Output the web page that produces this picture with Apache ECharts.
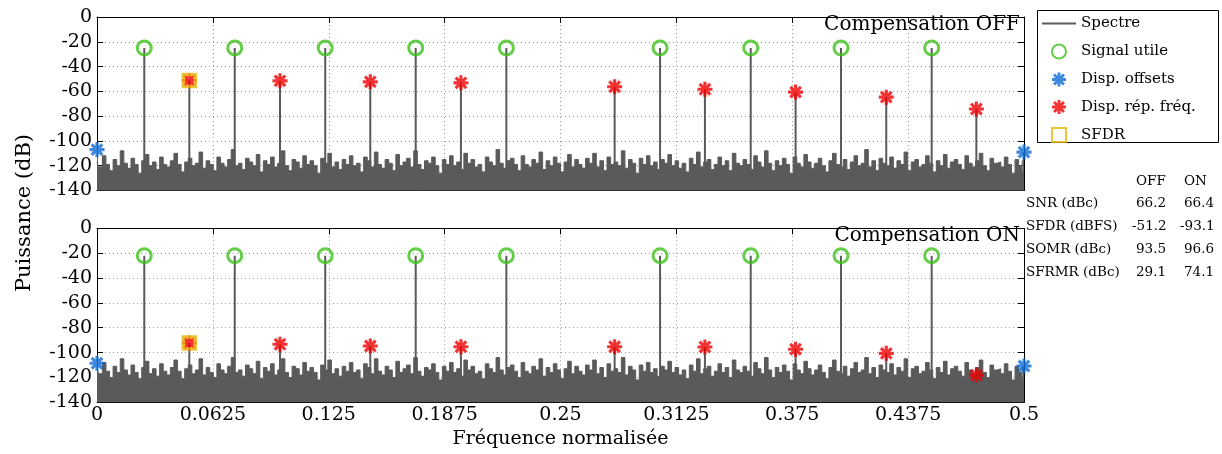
<!DOCTYPE html>
<html><head><meta charset="utf-8">
<script src="https://cdn.jsdelivr.net/npm/echarts@6/dist/echarts.min.js"></script>
<style>html,body{margin:0;padding:0;background:#fff}#c{width:1222px;height:454px}</style>
</head><body><div id="c"></div>
<script>
// ---------------- DATA ----------------
const toneFreqs = [0.0255, 0.0743, 0.1231, 0.1719, 0.2208, 0.3037, 0.3526, 0.4013, 0.4502];
const toneLevelsOff = [-25, -25, -25, -25, -25, -25, -25, -25, -25];
const toneLevelsOn  = [-22, -22, -22, -22, -22, -22, -22, -22, -22];
const spurFreqs = [0.0498, 0.0987, 0.1474, 0.1963, 0.2792, 0.3279, 0.3768, 0.4257, 0.4743];
const spurLevelsOff = [-51.2, -51.5, -52.3, -53.1, -56.3, -58.3, -60.6, -64.7, -74.2];
const spurLevelsOn  = [-92.3, -93.3, -94.7, -95.3, -95.3, -95.5, -97.3, -100.6, -118.1];
const offsetFreqs = [0, 0.5];
const offsetLevelsOff = [-107, -109];
const offsetLevelsOn  = [-108.6, -110.8];
const sfdrFreq = 0.0498;
const sfdrOff = -51.2;
const sfdrOn = -92.3;
const yTicks = [-140, -120, -100, -80, -60, -40, -20, 0];
const xTicks = [0, 0.0625, 0.125, 0.1875, 0.25, 0.3125, 0.375, 0.4375, 0.5];
const tableHead = ['OFF', 'ON'];
const tableRows = ['SNR (dBc)', 'SFDR (dBFS)', 'SOMR (dBc)', 'SFRMR (dBc)'];
const tableOff = ['66.2', '-51.2', '93.5', '29.1'];
const tableOn  = ['66.4', '-93.1', '96.6', '74.1'];
const noiseOff = [
-117,-121,-112,-119,-124,-115,-120,-108,-118,-122,-114,-119,-126,-116,-111,-120,-117,-123,-113,-119,
-121,-116,-110,-119,-125,-117,-114,-120,-118,-109,-122,-116,-119,-124,-113,-118,-121,-115,-107,-120,
-118,-123,-114,-117,-120,-111,-125,-116,-119,-113,-121,-118,-108,-120,-124,-115,-117,-122,-112,-119,
-116,-120,-126,-114,-118,-110,-121,-117,-123,-115,-119,-112,-120,-118,-125,-113,-116,-121,-109,-119,
-122,-115,-118,-124,-111,-120,-117,-114,-121,-108,-119,-123,-116,-118,-113,-120,-126,-115,-119,-112,
-120,-117,-123,-110,-118,-115,-121,-119,-125,-113,-117,-120,-107,-118,-122,-116,-114,-119,-124,-112,
-119,-121,-115,-118,-109,-123,-116,-120,-113,-118,-125,-117,-111,-121,-115,-119,-122,-114,-118,-110,
-121,-116,-124,-113,-119,-117,-120,-108,-122,-115,-118,-126,-114,-119,-112,-120,-117,-123,-115,-118,
-111,-120,-116,-122,-118,-125,-114,-119,-109,-121,-117,-115,-123,-119,-113,-120,-116,-124,-110,-118,
-120,-115,-119,-123,-112,-117,-121,-108,-118,-124,-116,-120,-114,-119,-126,-113,-118,-121,-111,-117,
-122,-118,-114,-120,-125,-116,-110,-119,-121,-115,-123,-117,-112,-120,-118,-107,-121,-116,-124,-114,
-118,-120,-113,-122,-116,-119,-109,-124,-117,-115,-121,-119,-112,-118,-125,-116,-120,-111,-122,-117,
-115,-119,-123,-112,-118,-121,-116,-110,-120,-124,-114,-118,-117,-121,-113,-119,-126,-115,-120,-116];
const noiseOn = [
-113,-117,-108,-115,-120,-111,-116,-105,-114,-118,-110,-116,-121,-112,-107,-117,-113,-119,-109,-115,
-118,-112,-106,-115,-121,-113,-110,-117,-114,-105,-118,-112,-116,-120,-109,-114,-117,-111,-104,-116,
-114,-119,-110,-113,-117,-107,-121,-112,-115,-109,-118,-114,-105,-116,-120,-111,-113,-118,-108,-115,
-112,-116,-122,-110,-114,-106,-117,-113,-119,-111,-115,-108,-116,-114,-121,-109,-112,-117,-105,-115,
-118,-111,-114,-120,-107,-116,-113,-110,-117,-104,-115,-119,-112,-114,-109,-116,-122,-111,-115,-108,
-116,-113,-119,-106,-114,-111,-117,-115,-121,-109,-113,-116,-104,-114,-118,-112,-110,-115,-120,-108,
-115,-117,-111,-114,-105,-119,-112,-116,-109,-114,-121,-113,-107,-117,-111,-115,-118,-110,-114,-106,
-117,-112,-120,-109,-115,-113,-116,-104,-118,-111,-114,-122,-110,-115,-108,-116,-113,-119,-111,-114,
-107,-116,-112,-118,-114,-121,-110,-115,-105,-117,-113,-111,-119,-115,-109,-116,-112,-120,-106,-114,
-116,-111,-115,-119,-108,-113,-117,-104,-114,-120,-112,-116,-110,-115,-122,-109,-114,-117,-107,-113,
-118,-114,-110,-116,-121,-112,-106,-115,-117,-111,-119,-113,-108,-116,-114,-104,-117,-112,-120,-110,
-114,-116,-109,-118,-112,-115,-105,-120,-113,-111,-117,-115,-108,-114,-121,-112,-116,-107,-118,-113,
-111,-115,-119,-108,-114,-117,-112,-106,-116,-120,-110,-114,-113,-117,-109,-115,-122,-111,-116,-112];

// ---------------- STYLE ----------------
const FONT = 'DejaVu Serif';
const GRAY = '#5a5a5a';
const GREEN = '#3fc21c';
const BLUE = '#0a6ad6';
const RED = '#f00000';
const YELLOW = '#e8b70c';
const YMIN = yTicks[0], YMAX = yTicks[yTicks.length - 1];
const XMIN = xTicks[0], XMAX = xTicks[xTicks.length - 1];

function asteriskPath(w) {
  let d = '';
  for (let k = 0; k < 4; k++) {
    const a = k * Math.PI / 4;
    const dx = Math.cos(a), dy = Math.sin(a);
    const nx = -dy * w / 2, ny = dx * w / 2;
    const p = [[dx + nx, dy + ny], [dx - nx, dy - ny], [-dx - nx, -dy - ny], [-dx + nx, -dy + ny]];
    d += 'M' + p.map(q => q[0].toFixed(3) + ' ' + q[1].toFixed(3)).join(' L') + ' Z ';
  }
  return 'path://' + d;
}
const AST = asteriskPath(0.42);
const SQUARE = 'path://M-1 -1 L1 -1 L1 1 L-1 1 Z';
const LINE_ICON = 'path://M0 0 L32 0 L32 2 L0 2 Z';

function noisePairs(arr) {
  const n = arr.length;
  return arr.map((v, i) => [XMIN + (XMAX - XMIN) * i / (n - 1), v]);
}
function pairs(fs, ls) { return fs.map((f, i) => [f, ls[i]]); }

function stemSeries(gi, data) {
  return {
    type: 'custom', xAxisIndex: gi * 2, yAxisIndex: gi * 2, z: 3, silent: true,
    data: data, clip: true,
    renderItem: function (params, api) {
      const t = api.coord([api.value(0), api.value(1)]);
      const b = api.coord([api.value(0), YMIN]);
      return { type: 'line', shape: { x1: t[0], y1: t[1], x2: b[0], y2: b[1] },
        style: { stroke: GRAY, lineWidth: 2 } };
    }
  };
}

function plotSeries(gi, noise, toneL, spurL, offL, sfdrL) {
  const xi = gi * 2, yi = gi * 2;
  return [
    { name: 'Spectre', type: 'line', xAxisIndex: xi, yAxisIndex: yi, data: noisePairs(noise),
      step: 'middle', symbol: 'none', showSymbol: false, z: 2, silent: true,
      lineStyle: { color: GRAY, width: 1 }, itemStyle: { color: GRAY },
      areaStyle: { color: GRAY, opacity: 1, origin: 'start' } },
    stemSeries(gi, pairs(toneFreqs, toneL).concat(pairs(spurFreqs, spurL), pairs(offsetFreqs, offL))),
    { name: 'Signal utile', type: 'scatter', xAxisIndex: xi, yAxisIndex: yi, data: pairs(toneFreqs, toneL),
      symbol: 'circle', symbolSize: 14, z: 5, clip: false,
      itemStyle: { color: 'rgba(255,255,255,0)', borderColor: GREEN, borderWidth: 3 } },
    { name: 'Disp. offsets', type: 'scatter', xAxisIndex: xi, yAxisIndex: yi, data: pairs(offsetFreqs, offL),
      symbol: AST, symbolSize: 15, z: 5, clip: false, itemStyle: { color: BLUE } },
    { name: 'Disp. rép. fréq.', type: 'scatter', xAxisIndex: xi, yAxisIndex: yi, data: pairs(spurFreqs, spurL),
      symbol: AST, symbolSize: 15, z: 5, clip: false, itemStyle: { color: RED } },
    { name: 'SFDR', type: 'scatter', xAxisIndex: xi, yAxisIndex: yi, data: [[sfdrFreq, sfdrL]],
      symbol: SQUARE, symbolKeepAspect: true, symbolSize: 12, z: 6, clip: false,
      itemStyle: { color: 'rgba(255,255,255,0)', borderColor: YELLOW, borderWidth: 3.5 } }
  ];
}

const tickStyle = { show: true, inside: true, length: 6, lineStyle: { color: '#000', width: 1 } };
const axLine = { show: true, onZero: false, lineStyle: { color: '#000', width: 1 } };
const split = { show: true, lineStyle: { color: '#999', width: 1, type: [1, 3] } };
const lblFont = { fontFamily: FONT, fontSize: 19, color: '#000' };

function xAxes(gi, showLabels) {
  const base = { type: 'value', gridIndex: gi, min: XMIN, max: XMAX, interval: xTicks[1] - xTicks[0],
    axisLine: axLine, axisTick: tickStyle };
  const a = Object.assign({}, base, { position: 'bottom', splitLine: split,
    axisLabel: Object.assign({ show: showLabels, margin: 3, formatter: v => String(v) }, lblFont) });
  if (showLabels) {
    Object.assign(a, { name: 'Fréquence normalisée', nameLocation: 'middle', nameGap: 27,
      nameTextStyle: { fontFamily: FONT, fontSize: 19, color: '#000' } });
  }
  const b = Object.assign({}, base, { position: 'top', splitLine: { show: false }, axisLabel: { show: false } });
  return [a, b];
}
function yAxes(gi) {
  const base = { type: 'value', gridIndex: gi, min: YMIN, max: YMAX, interval: yTicks[1] - yTicks[0],
    axisLine: axLine, axisTick: tickStyle };
  const a = Object.assign({}, base, { position: 'left', splitLine: split,
    axisLabel: Object.assign({ show: true, margin: 5 }, lblFont) });
  const b = Object.assign({}, base, { position: 'right', splitLine: { show: false }, axisLabel: { show: false } });
  return [a, b];
}

const graphics = [
  { type: 'rect', z: 1, shape: { x: 1037.5, y: 10.5, width: 181, height: 132 },
    style: { fill: '#fff', stroke: '#000', lineWidth: 1 } },
  { type: 'text', z: 10, x: 1020, y: 15, style: { text: 'Compensation OFF', align: 'right', verticalAlign: 'top',
    font: '20px "' + FONT + '"', fill: '#000' } },
  { type: 'text', z: 10, x: 1020, y: 226, style: { text: 'Compensation ON', align: 'right', verticalAlign: 'top',
    font: '20px "' + FONT + '"', fill: '#000' } },
  { type: 'text', z: 10, x: 25, y: 213, rotation: Math.PI / 2, style: { text: 'Puissance (dB)', align: 'center',
    verticalAlign: 'middle', font: '21px "' + FONT + '"', fill: '#000' } }
];
const tf = '13.5px "' + FONT + '"';
graphics.push({ type: 'text', z: 10, x: 1136, y: 181, style: { text: tableHead[0], verticalAlign: 'middle', font: tf, fill: '#000' } });
graphics.push({ type: 'text', z: 10, x: 1184, y: 181, style: { text: tableHead[1], verticalAlign: 'middle', font: tf, fill: '#000' } });
tableRows.forEach((r, i) => {
  const y = 203 + i * 23;
  graphics.push({ type: 'text', z: 10, x: 1026, y: y, style: { text: r, verticalAlign: 'middle', font: tf, fill: '#000' } });
  graphics.push({ type: 'text', z: 10, x: tableOff[i][0] === '-' ? 1132 : 1136, y: y, style: { text: tableOff[i], verticalAlign: 'middle', font: tf, fill: '#000' } });
  graphics.push({ type: 'text', z: 10, x: tableOn[i][0] === '-' ? 1180 : 1184, y: y, style: { text: tableOn[i], verticalAlign: 'middle', font: tf, fill: '#000' } });
});

const chart = echarts.init(document.getElementById('c'), null, { renderer: 'canvas' });
chart.setOption({
  animation: false,
  backgroundColor: '#fff',
  grid: [
    { left: 97, top: 17, width: 927, height: 173.5 },
    { left: 97, top: 228.3, width: 927, height: 174 }
  ],
  legend: {
    orient: 'vertical', left: 1040, top: 14, itemWidth: 34, itemHeight: 14, itemGap: 12.5,
    padding: [2, 2, 2, 2], z: 8, symbolKeepAspect: true,
    textStyle: { fontFamily: FONT, fontSize: 15, color: '#000' },
    data: [
      { name: 'Spectre', icon: LINE_ICON, itemStyle: { color: GRAY } },
      'Signal utile', 'Disp. offsets', 'Disp. rép. fréq.', 'SFDR'
    ]
  },
  xAxis: xAxes(0, false).concat(xAxes(1, true)),
  yAxis: yAxes(0).concat(yAxes(1)),
  series: plotSeries(0, noiseOff, toneLevelsOff, spurLevelsOff, offsetLevelsOff, sfdrOff)
    .concat(plotSeries(1, noiseOn, toneLevelsOn, spurLevelsOn, offsetLevelsOn, sfdrOn)),
  graphic: graphics
});
</script></body></html>
